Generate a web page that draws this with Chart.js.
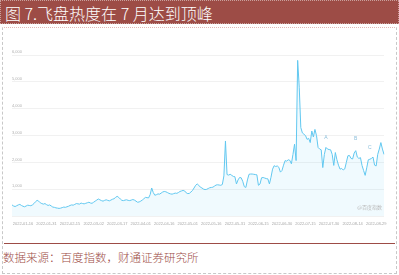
<!DOCTYPE html>
<html><head><meta charset="utf-8">
<script src="https://cdn.jsdelivr.net/npm/chart.js@4"></script>
<style>
html,body{margin:0;padding:0;background:#fff;width:399px;height:275px;overflow:hidden;}
#title{position:absolute;left:0;top:0;height:24px;background:#9d4c46;border:1px dotted #c9a09c;color:#fff;font-family:"Noto Sans CJK SC",sans-serif;font-size:16px;font-weight:300;line-height:24px;padding-left:4px;box-sizing:border-box;width:399px;white-space:nowrap;}
#frame{position:absolute;left:2px;top:27px;width:393px;height:245px;border:1px dashed #c8c8c8;border-top:1px dotted #e2b9b5;}
#rule{position:absolute;left:4px;top:243px;width:391px;height:0;border-top:1px solid #9d4c46;}
#source{position:absolute;left:3px;top:249px;font-family:"Noto Sans CJK SC",sans-serif;font-size:11.5px;font-weight:300;line-height:16px;color:#9d4c46;white-space:nowrap;}
#c{position:absolute;left:5px;top:32px;}
</style></head>
<body>
<div id="title">图 7.飞盘热度在 7 月达到顶峰</div>
<div id="frame"></div>
<canvas id="c" width="388" height="205"></canvas>
<div id="rule"></div>
<div id="source">数据来源：百度指数，财通证券研究所</div>
<script>
// ---- data ----
const startDate = '2022-01-09';
const tickLabels = ['2022-01-16','2022-01-31','2022-02-15','2022-03-02','2022-03-17','2022-04-01','2022-04-16','2022-05-01','2022-05-16','2022-05-31','2022-06-15','2022-06-30','2022-07-15','2022-07-30','2022-08-14','2022-08-29'];
const yTicks = [0,1000,2000,3000,4000,5000,6000];
const heatValues = [
420,380,360,390,420,440,400,370,350,380,410,400,390,420,470,540,590,560,500,470,
450,470,430,400,420,380,340,330,310,300,290,300,320,340,330,350,370,400,420,410,
440,470,460,450,490,470,460,480,500,520,490,480,520,560,600,640,610,580,560,590,
610,590,570,600,630,650,700,740,700,640,590,580,600,610,590,580,600,620,600,560,
520,530,560,600,650,700,690,680,800,1050,880,780,800,830,820,860,900,920,910,880,
850,830,820,840,860,850,880,920,940,960,940,870,840,850,900,960,1050,1150,1200,1150,
1080,1050,1010,990,1000,1030,1060,1070,1080,1120,1160,1170,1160,1150,1180,1500,2800,1550,1530,1560,
1520,1480,1470,1200,1350,1440,1430,1300,1100,1070,1350,1560,1570,1570,1560,1550,1540,1150,1200,1430,
1440,1420,1400,1390,1200,1450,1750,1880,1850,1870,1820,1640,1700,1900,2070,2050,2100,2080,1950,2300,
2680,2070,5800,4800,3300,3100,3050,3000,2860,2900,2740,3170,2950,3230,3000,2560,2500,2470,1810,2300,
2560,2500,2480,2470,2300,1890,2370,2100,1900,1750,1780,1720,1760,2000,2250,2260,2150,2130,2350,2440,
2200,2150,2180,1890,1700,1520,1800,2100,2120,2150,2200,1900,1870,2300,2500,2740,2500,2300
];
const eventLetters = ['A','B','C'];
const eventDays = [200,219,228];
const eventValues = [2820,2780,2450];
const watermark = '@百度指数';

// categories: one per day
const dayLabels = [];
{
  const d0 = new Date(startDate + 'T00:00:00Z');
  for (let i = 0; i < heatValues.length; i++) {
    const d = new Date(d0.getTime() + i * 86400000);
    dayLabels.push(d.toISOString().slice(0,10));
  }
}

const extras = {
  id: 'extras',
  afterDatasetsDraw(chart) {
    const {ctx, chartArea, scales} = chart;
    ctx.save();
    ctx.fillStyle = '#8fc0dc';
    ctx.font = '5px "Liberation Sans", sans-serif';
    ctx.textAlign = 'center';
    ctx.textBaseline = 'bottom';
    eventLetters.forEach((t, i) => {
      ctx.fillText(t, scales.x.getPixelForValue(eventDays[i]), scales.y.getPixelForValue(eventValues[i]));
    });
    ctx.fillStyle = '#b8b8b8';
    ctx.font = '5px "Noto Sans CJK SC", sans-serif';
    ctx.textAlign = 'right';
    ctx.textBaseline = 'middle';
    ctx.fillText(watermark, chartArea.right - 2, chartArea.bottom - 9);
    ctx.restore();
  }
};

new Chart(document.getElementById('c'), {
  type: 'line',
  data: {
    labels: dayLabels,
    datasets: [{
      data: heatValues,
      borderColor: '#62c8f0',
      borderWidth: 1,
      backgroundColor: 'rgba(94,198,239,0.09)',
      fill: 'origin',
      pointRadius: 0,
      tension: 0
    }]
  },
  options: {
    responsive: false,
    animation: false,
    layout: {padding: {left: 7, right: 9, top: 23, bottom: 6}},
    plugins: {legend: {display: false}, tooltip: {enabled: false}},
    scales: {
      x: {
        grid: {display: false, drawTicks: false},
        border: {display: false},
        afterBuildTicks: axis => { axis.ticks = axis.ticks.filter(t => tickLabels.includes(dayLabels[t.value])); },
        ticks: {autoSkip: false, maxRotation: 0, minRotation: 0, padding: 5, color: '#a8a8a8',
          font: {family: '"Liberation Sans", sans-serif', size: 4}}
      },
      y: {
        min: 0, max: 6000,
        afterBuildTicks: axis => { axis.ticks = yTicks.map(v => ({value: v})); },
        grid: {color: '#f1f1f1', drawTicks: false, lineWidth: 1},
        border: {display: false},
        ticks: {mirror: true, padding: 0, labelOffset: -3, color: '#b0b0b0',
          font: {family: '"Liberation Sans", sans-serif', size: 4},
          callback: v => v === 0 ? '' : v.toLocaleString('en-US')}
      }
    }
  },
  plugins: [extras]
});
</script>
</body></html>
